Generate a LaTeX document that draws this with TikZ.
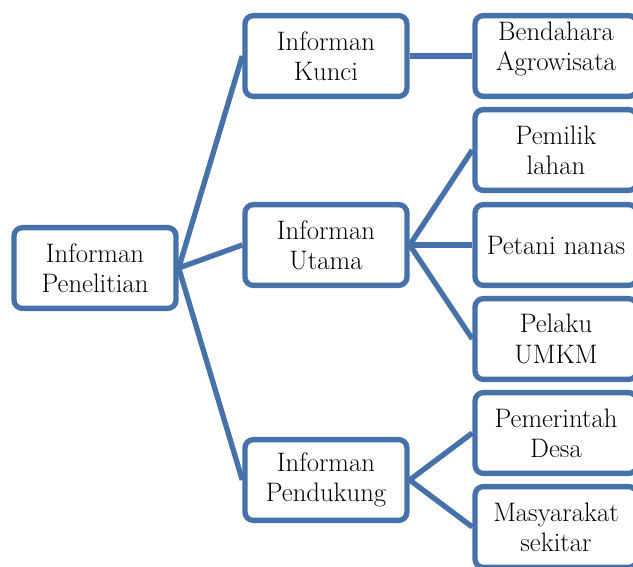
\documentclass[tikz,border=0pt]{standalone}
\definecolor{frameblue}{HTML}{4672A9}

\begin{document}
\begin{tikzpicture}[x=0.025cm,y=-0.025cm,
  box/.style={draw=frameblue,line width=3.8pt,rounded corners=6pt,fill=white,
    minimum width=4.05cm,minimum height=2.02cm,inner sep=2pt,align=center,
    font=\fontsize{19}{21.5}\selectfont},
  link/.style={draw=frameblue,line width=3.8pt}]
\useasboundingbox (0,0) rectangle (633,567);
\clip (0,0) rectangle (633,567);
% Root
\node[box] (root) at (95,268) {Informan\\Penelitian};
% Groups of informants
\node[box] (kunci) at (326,56) {Informan\\Kunci};
\node[box] (utama) at (326,245) {Informan\\Utama};
\node[box] (dukung) at (326,480) {Informan\\Pendukung};
% Informants
\node[box,text depth=0.5cm] (bendahara) at (556,56) {Bendahara\\Agrowisata};
\node[box] (pemilik) at (556,150) {Pemilik\\lahan};
\node[box] (petani) at (556,245) {Petani nanas};
\node[box] (umkm) at (556,339) {Pelaku\\UMKM};
\node[box] (desa) at (556,433) {Pemerintah\\Desa};
\node[box] (warga) at (556,527) {Masyarakat\\sekitar};
% Connectors
\draw[link] (root.east) -- (kunci.west);
\draw[link] (root.east) -- (utama.west);
\draw[link] (root.east) -- (dukung.west);
\draw[link] (kunci.east) -- (bendahara.west);
\draw[link] (utama.east) -- (pemilik.west);
\draw[link] (utama.east) -- (petani.west);
\draw[link] (utama.east) -- (umkm.west);
\draw[link] (dukung.east) -- (desa.west);
\draw[link] (dukung.east) -- (warga.west);
\end{tikzpicture}
\end{document}
